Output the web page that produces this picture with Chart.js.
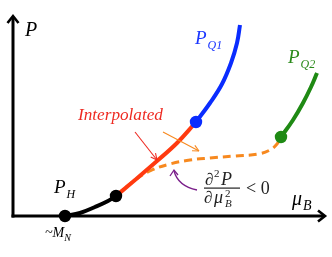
<!DOCTYPE html>
<html><head><meta charset="utf-8">
<script src="https://cdn.jsdelivr.net/npm/chart.js@4"></script>
<style>html,body{margin:0;padding:0;background:#fff}#wrap{width:332px;height:257px}</style>
</head><body><div id="wrap"><canvas id="c" width="332" height="257"></canvas></div>
<script>
// schematic curves (mu_B, P) in arbitrary units
const hadronX = [52, 67, 82, 95, 103];
const hadronY = [0, 3, 9, 15, 20];
const interpX = [103, 122, 144, 164, 183];
const interpY = [20, 36, 55, 73, 94];
const q1X = [183, 197, 209, 218, 224, 227];
const q1Y = [94, 113, 132, 153, 173, 191];
const q2X = [268, 280, 290, 298, 304];
const q2Y = [79, 96, 113, 129, 143];
const altX = [103, 122, 139, 157, 177, 197, 222, 245, 257, 264, 268];
const altY = [20, 36, 46, 52, 56, 58, 60, 62, 66, 72, 79];

const pts = (xs, ys) => xs.map((x, i) => ({x, y: ys[i]}));
const ends = (n, idx) => ctx => idx.includes(ctx.dataIndex) ? 4.2 : 0;

const overlay = {
  id: 'overlay',
  beforeDatasetsDraw(chart) {
    const c = chart.ctx, X = chart.scales.x, Y = chart.scales.y;
    const px = v => X.getPixelForValue(v), py = v => Y.getPixelForValue(v);
    c.save();
    c.strokeStyle = '#000'; c.lineWidth = 3; c.lineCap = 'butt'; c.lineJoin = 'miter';
    const ox = px(0), oy = py(0);
    c.beginPath(); c.moveTo(ox, oy + 1.5); c.lineTo(ox, py(199)); c.stroke();
    c.beginPath(); c.moveTo(ox - 1.5, oy); c.lineTo(px(311), oy); c.stroke();
    c.lineWidth = 2.6;
    c.beginPath(); c.moveTo(ox - 5.5, py(193)); c.lineTo(ox, py(200)); c.lineTo(ox + 5.5, py(193)); c.stroke();
    c.beginPath(); c.moveTo(px(305), oy - 5.5); c.lineTo(px(312), oy); c.lineTo(px(305), oy + 5.5); c.stroke();
    c.restore();
  },
  afterDatasetsDraw(chart) {
    const c = chart.ctx;
    c.save();
    const serif = '"Liberation Serif", "DejaVu Serif", serif';
    const txt = (s, x, y, size, color, italic = true) => {
      c.font = (italic ? 'italic ' : '') + size + 'px ' + serif;
      c.fillStyle = color; c.textBaseline = 'alphabetic'; c.textAlign = 'left';
      c.fillText(s, x, y);
      return c.measureText(s).width;
    };
    // axis labels
    txt('P', 25, 36, 20, '#000');
    let w = txt('\u03bc', 292, 205, 20, '#000');
    txt('B', 292 + w + 1, 210, 14, '#000');
    // curve labels
    w = txt('P', 195, 44, 19, '#1a36ff');
    txt('Q1', 195 + w + 1, 49, 12, '#1a36ff');
    w = txt('P', 288, 63, 19, '#2a8a1a');
    txt('Q2', 288 + w + 1, 68, 12, '#2a8a1a');
    w = txt('P', 54, 193, 19, '#000');
    txt('H', 54 + w + 1, 198, 12, '#000');
    w = txt('~M', 45, 237, 14, '#000');
    txt('N', 45 + w, 241, 10, '#000');
    c.font = 'italic 16px ' + serif;
    const iw = c.measureText('Interpolated').width;
    txt('Interpolated', 78, 120, (16 * 85 / iw).toFixed(2), '#ee2a22');
    // fraction
    c.fillStyle = '#222';
    c.font = '17px ' + serif; c.fillText('\u2202', 205, 185);
    c.font = '11px ' + serif; c.fillText('2', 214, 177);
    c.font = 'italic 18px ' + serif; c.fillText('P', 221, 185);
    c.fillRect(204, 187.5, 36, 1.2);
    c.font = '17px ' + serif; c.fillText('\u2202', 204, 203);
    c.font = 'italic 18px ' + serif; c.fillText('\u03bc', 214, 203);
    c.font = '11px ' + serif; c.fillText('2', 225, 197);
    c.font = 'italic 11px ' + serif; c.fillText('B', 225, 207);
    c.font = '18px ' + serif; c.fillText('< 0', 246, 194);
    // arrows
    const arrow = (x1, y1, x2, y2, col, lw, hs) => {
      c.strokeStyle = col; c.lineWidth = lw;
      c.beginPath(); c.moveTo(x1, y1); c.lineTo(x2, y2); c.stroke();
      const a = Math.atan2(y2 - y1, x2 - x1);
      c.beginPath(); c.moveTo(x2, y2);
      c.lineTo(x2 - hs * Math.cos(a - 0.45), y2 - hs * Math.sin(a - 0.45));
      c.moveTo(x2, y2);
      c.lineTo(x2 - hs * Math.cos(a + 0.45), y2 - hs * Math.sin(a + 0.45));
      c.stroke();
    };
    arrow(135, 132, 157, 160, '#ee2a22', 1.1, 7);
    arrow(163, 132, 199, 151, '#f7891f', 1.1, 7);
    // purple curved arrow
    c.strokeStyle = '#7a1f8a'; c.lineWidth = 1.3;
    c.beginPath(); c.moveTo(197, 190); c.quadraticCurveTo(178, 186, 174, 171); c.stroke();
    c.beginPath(); c.moveTo(170, 176); c.lineTo(174, 170); c.lineTo(178, 175); c.stroke();
    c.restore();
  }
};

new Chart(document.getElementById('c'), {
  type: 'scatter',
  data: {
    datasets: [
      {data: pts(hadronX, hadronY), showLine: true, borderColor: '#000', backgroundColor: '#000',
       borderWidth: 4, tension: 0.4, pointRadius: ends(5, [0, 4]), order: 0},
      {data: pts(interpX, interpY), showLine: true, borderColor: '#ff3a10', borderWidth: 4,
       tension: 0.4, pointRadius: 0, order: 2},
      {data: pts(q1X, q1Y), showLine: true, borderColor: '#0a2cff', backgroundColor: '#0a2cff',
       borderWidth: 4, tension: 0.4, pointRadius: ends(6, [0]), order: 1},
      {data: pts(q2X, q2Y), showLine: true, borderColor: '#1f8a14', backgroundColor: '#1f8a14',
       borderWidth: 4, tension: 0.4, pointRadius: ends(5, [0]), order: 1},
      {data: pts(altX, altY), showLine: true, borderColor: '#f7891f', borderWidth: 3,
       borderDash: [8, 5], tension: 0.4, pointRadius: 0, order: 5}
    ]
  },
  options: {
    responsive: false, animation: false, events: [],
    layout: {padding: 0, autoPadding: false},
    plugins: {legend: {display: false}, tooltip: {enabled: false}},
    scales: {
      x: {type: 'linear', display: false, min: -13, max: 319},
      y: {type: 'linear', display: false, min: -41, max: 216}
    }
  },
  plugins: [overlay]
});
</script></body></html>
